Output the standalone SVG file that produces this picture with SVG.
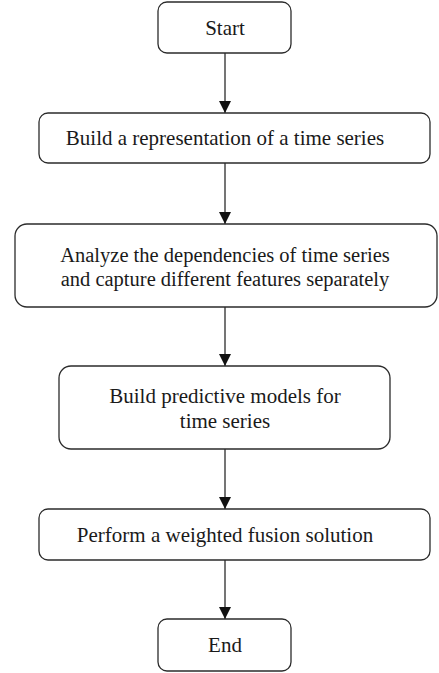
<svg xmlns="http://www.w3.org/2000/svg" width="439" height="673" viewBox="0 0 439 673">
  <style>
    .box { fill: #ffffff; stroke: #2b2b2b; stroke-width: 1.3; }
    .label { font-family: "Liberation Serif", "Times New Roman", serif; font-size: 21px; fill: #1a1a1a; text-anchor: middle; }
    .tight { font-size: 20.5px; }
    .edge { stroke: #2b2b2b; stroke-width: 1.3; fill: none; marker-end: url(#arrow); }
  </style>
  <defs>
    <marker id="arrow" viewBox="0 0 12 13" refX="12" refY="6" markerWidth="12" markerHeight="13" markerUnits="userSpaceOnUse" orient="auto">
      <path d="M0,0 L12,6 L0,12 Z" fill="#111111"/>
    </marker>
  </defs>
  <rect width="439" height="673" fill="#ffffff"/>

  <g id="connectors">
    <line class="edge" x1="225" y1="53" x2="225" y2="113"/>
    <line class="edge" x1="225" y1="163" x2="225" y2="224"/>
    <line class="edge" x1="225" y1="307" x2="225" y2="366"/>
    <line class="edge" x1="225" y1="449" x2="225" y2="509"/>
    <line class="edge" x1="225" y1="560" x2="225" y2="619"/>
  </g>

  <g id="start">
    <rect class="box" x="158" y="2" width="133" height="51" rx="9"/>
    <text class="label" x="225" y="35">Start</text>
  </g>

  <g id="build-representation">
    <rect class="box" x="39" y="113" width="391" height="50" rx="9"/>
    <text class="label" x="225" y="145">Build a representation of a time series</text>
  </g>

  <g id="analyze-dependencies">
    <rect class="box" x="15" y="224" width="422" height="83" rx="12"/>
    <text class="label tight" x="225" y="262">Analyze the dependencies of time series</text>
    <text class="label tight" x="225" y="285.5">and capture different features separately</text>
  </g>

  <g id="predictive-models">
    <rect class="box" x="59" y="366" width="331" height="83" rx="12"/>
    <text class="label" x="225" y="403">Build predictive models for</text>
    <text class="label" x="225" y="428">time series</text>
  </g>

  <g id="weighted-fusion">
    <rect class="box" x="39" y="509" width="391" height="51" rx="9"/>
    <text class="label" x="225" y="542">Perform a weighted fusion solution</text>
  </g>

  <g id="end">
    <rect class="box" x="158" y="619" width="133" height="52" rx="9"/>
    <text class="label" x="225" y="652">End</text>
  </g>
</svg>
